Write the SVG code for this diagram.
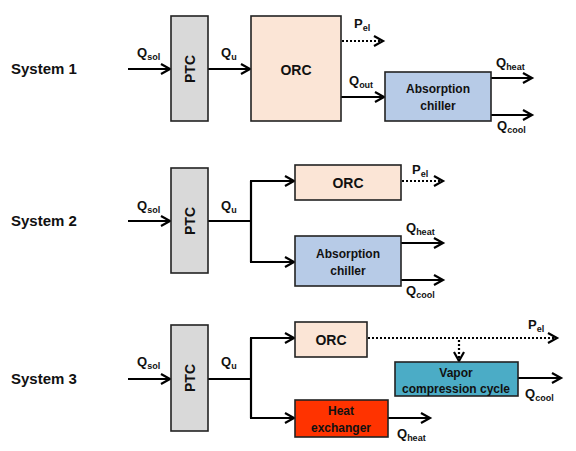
<svg xmlns="http://www.w3.org/2000/svg" width="576" height="451" viewBox="0 0 576 451">
<style>
text{font-family:"Liberation Sans",Arial,sans-serif;font-weight:bold;fill:#111}
.sys{font-size:15px}
.box{stroke:#222;stroke-width:1.6}
.lbl{font-size:14px;text-anchor:middle}
.lbl2{font-size:12px;text-anchor:middle}
.q{font-size:13px}
.sub{font-size:9px}
.ln{fill:none;stroke:#000;stroke-width:2.2}
.dot{fill:none;stroke:#000;stroke-width:2.2;stroke-dasharray:2 2}
</style>
<defs>
<marker id="ah" markerUnits="userSpaceOnUse" markerWidth="14" markerHeight="14" refX="10" refY="6" orient="auto">
<path d="M1,1 L10,6 L1,11" fill="none" stroke="#000" stroke-width="2.2"/>
</marker>
</defs>
<rect width="576" height="451" fill="#fff"/>

<text class="sys" x="11" y="74">System 1</text>
<text class="sys" x="11" y="226">System 2</text>
<text class="sys" x="11" y="384">System 3</text>

<g id="connectors">
<!-- System 1 -->
<line class="ln" x1="128" y1="69" x2="170" y2="69" marker-end="url(#ah)"/>
<line class="ln" x1="208" y1="69" x2="250" y2="69" marker-end="url(#ah)"/>
<line class="dot" x1="342" y1="41" x2="383" y2="41" marker-end="url(#ah)"/>
<line class="ln" x1="341" y1="97" x2="384" y2="97" marker-end="url(#ah)"/>
<line class="ln" x1="491" y1="78" x2="532" y2="78" marker-end="url(#ah)"/>
<line class="ln" x1="491" y1="115" x2="532" y2="115" marker-end="url(#ah)"/>
<!-- System 2 -->
<line class="ln" x1="128" y1="221" x2="170" y2="221" marker-end="url(#ah)"/>
<polyline class="ln" points="208,221 251,221"/>
<polyline class="ln" points="251,181 251,262"/>
<line class="ln" x1="250" y1="181" x2="294" y2="181" marker-end="url(#ah)"/>
<line class="ln" x1="250" y1="262" x2="294" y2="262" marker-end="url(#ah)"/>
<line class="dot" x1="402" y1="181" x2="443" y2="181" marker-end="url(#ah)"/>
<line class="ln" x1="401" y1="243" x2="443" y2="243" marker-end="url(#ah)"/>
<line class="ln" x1="401" y1="280" x2="443" y2="280" marker-end="url(#ah)"/>
<!-- System 3 -->
<line class="ln" x1="128" y1="379" x2="170" y2="379" marker-end="url(#ah)"/>
<polyline class="ln" points="208,379 251,379"/>
<polyline class="ln" points="251,338 251,418"/>
<line class="ln" x1="250" y1="338" x2="294" y2="338" marker-end="url(#ah)"/>
<line class="ln" x1="250" y1="418" x2="294" y2="418" marker-end="url(#ah)"/>
<line class="dot" x1="368" y1="338" x2="557" y2="338" marker-end="url(#ah)"/>
<line class="dot" x1="459" y1="340" x2="459" y2="361" marker-end="url(#ah)"/>
<line class="ln" x1="518" y1="378" x2="561" y2="378" marker-end="url(#ah)"/>
<line class="ln" x1="388" y1="418" x2="430" y2="418" marker-end="url(#ah)"/>
</g>

<g id="labels">
<text class="q" x="137" y="57">Q<tspan class="sub" dy="3">sol</tspan></text>
<text class="q" x="221" y="57">Q<tspan class="sub" dy="3">u</tspan></text>
<text class="q" x="354" y="28">P<tspan class="sub" dy="3">el</tspan></text>
<text class="q" x="349" y="85">Q<tspan class="sub" dy="3">out</tspan></text>
<text class="q" x="496" y="67">Q<tspan class="sub" dy="3">heat</tspan></text>
<text class="q" x="497" y="130">Q<tspan class="sub" dy="3">cool</tspan></text>

<text class="q" x="137" y="210">Q<tspan class="sub" dy="3">sol</tspan></text>
<text class="q" x="221" y="210">Q<tspan class="sub" dy="3">u</tspan></text>
<text class="q" x="412" y="174">P<tspan class="sub" dy="3">el</tspan></text>
<text class="q" x="406" y="232">Q<tspan class="sub" dy="3">heat</tspan></text>
<text class="q" x="406" y="295">Q<tspan class="sub" dy="3">cool</tspan></text>

<text class="q" x="137" y="366">Q<tspan class="sub" dy="3">sol</tspan></text>
<text class="q" x="221" y="366">Q<tspan class="sub" dy="3">u</tspan></text>
<text class="q" x="528" y="329">P<tspan class="sub" dy="3">el</tspan></text>
<text class="q" x="525" y="398">Q<tspan class="sub" dy="3">cool</tspan></text>
<text class="q" x="397" y="438">Q<tspan class="sub" dy="3">heat</tspan></text>
</g>

<g id="ptc1"><rect class="box" x="171" y="16" width="37" height="105" fill="#d9d9d9"/><text class="lbl" transform="translate(195,69) rotate(-90)">PTC</text></g>
<g id="orc1"><rect class="box" x="251" y="16" width="90" height="105" fill="#fbe5d6"/><text class="lbl" x="296" y="75">ORC</text></g>
<g id="abs1"><rect class="box" x="385" y="72" width="106" height="49" fill="#b7cbe7"/><text class="lbl2" x="438" y="93">Absorption</text><text class="lbl2" x="438" y="110">chiller</text></g>

<g id="ptc2"><rect class="box" x="171" y="168" width="37" height="105" fill="#d9d9d9"/><text class="lbl" transform="translate(195,221) rotate(-90)">PTC</text></g>
<g id="orc2"><rect class="box" x="295" y="165" width="106" height="35" fill="#fbe5d6"/><text class="lbl" x="348" y="188">ORC</text></g>
<g id="abs2"><rect class="box" x="295" y="236" width="106" height="50" fill="#b7cbe7"/><text class="lbl2" x="348" y="258">Absorption</text><text class="lbl2" x="348" y="275">chiller</text></g>

<g id="ptc3"><rect class="box" x="171" y="325" width="37" height="106" fill="#d9d9d9"/><text class="lbl" transform="translate(195,378) rotate(-90)">PTC</text></g>
<g id="orc3"><rect class="box" x="295" y="322" width="72" height="35" fill="#fbe5d6"/><text class="lbl" x="331" y="345">ORC</text></g>
<g id="vcc"><rect class="box" x="395" y="362" width="123" height="34" fill="#4bacc6"/><text class="lbl2" x="456" y="377">Vapor</text><text class="lbl2" x="456" y="393">compression cycle</text></g>
<g id="hx"><rect class="box" x="295" y="400" width="93" height="37" fill="#ff3300"/><text class="lbl2" x="341" y="415">Heat</text><text class="lbl2" x="341" y="432">exchanger</text></g>
</svg>
